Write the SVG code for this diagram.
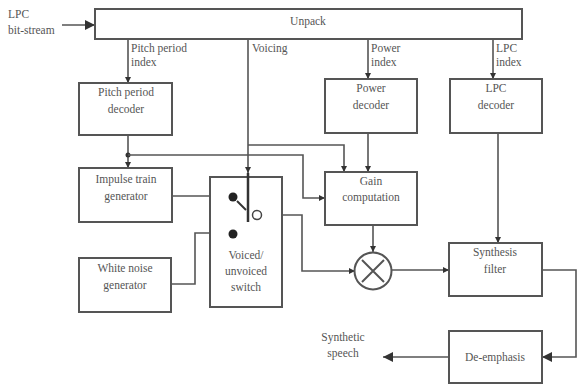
<svg xmlns="http://www.w3.org/2000/svg" width="578" height="388" viewBox="0 0 578 388">
<style>
.box{fill:#fff;stroke:#555;stroke-width:2}
.ln{fill:none;stroke:#555;stroke-width:1.6}
text{font-family:"Liberation Serif","Times New Roman",serif;font-size:11.5px;fill:#555}
.c{text-anchor:middle}
</style>
<defs>
<marker id="ar" viewBox="0 0 10 10" refX="10" refY="5" markerWidth="6" markerHeight="6" orient="auto" markerUnits="userSpaceOnUse">
<path d="M0,0 L10,5 L0,10 z" fill="#333"/>
</marker>
<marker id="arB" viewBox="0 0 10 10" refX="10" refY="5" markerWidth="10" markerHeight="10" orient="auto" markerUnits="userSpaceOnUse">
<path d="M0,0 L10,5 L0,10 z" fill="#333"/>
</marker>
</defs>
<rect width="578" height="388" fill="#fff"/>
<g id="connectors">
<path class="ln" d="M62,25 H95" marker-end="url(#arB)"/>
<path class="ln" d="M128,39 V83" marker-end="url(#ar)"/>
<path class="ln" d="M248,39 V173" marker-end="url(#ar)"/>
<path class="ln" d="M368,39 V79" marker-end="url(#ar)"/>
<path class="ln" d="M493,39 V79" marker-end="url(#ar)"/>
<path class="ln" d="M128,135 V168" marker-end="url(#ar)"/>
<circle cx="128" cy="155" r="2.5" fill="#333"/>
<path class="ln" d="M128,155 H303 V198 H325" marker-end="url(#ar)"/>
<path class="ln" d="M248,145 H344 V172" marker-end="url(#ar)"/>
<path class="ln" d="M368,133 V172" marker-end="url(#ar)"/>
<path class="ln" d="M373,225 V252" marker-end="url(#ar)"/>
<path class="ln" d="M172,196 H233"/>
<path class="ln" d="M171,284 H195 V233 H233"/>
<path class="ln" d="M262,215 H302 V271 H355" marker-end="url(#ar)"/>
<path class="ln" d="M392,270 H449" marker-end="url(#ar)"/>
<path class="ln" d="M498,133 V243" marker-end="url(#ar)"/>
<path class="ln" d="M542,270 H576 V357 H542" marker-end="url(#arB)"/>
<path class="ln" d="M449,357 H383" marker-end="url(#arB)"/>
</g>
<g id="unpack"><rect class="box" x="95" y="9" width="427" height="30"/><text x="308" y="25" class="c">Unpack</text></g>
<g id="input-label"><text x="8" y="18">LPC</text><text x="8" y="34">bit-stream</text></g>
<g id="labels">
<text x="131" y="52">Pitch period</text><text x="131" y="66">index</text>
<text x="252" y="52">Voicing</text>
<text x="371" y="52">Power</text><text x="371" y="66">index</text>
<text x="496" y="52">LPC</text><text x="496" y="66">index</text>
</g>
<g id="pitch-decoder"><rect class="box" x="79" y="83" width="93" height="52"/><text x="126" y="96" class="c">Pitch period</text><text x="126" y="113" class="c">decoder</text></g>
<g id="power-decoder"><rect class="box" x="325" y="79" width="92" height="54"/><text x="371" y="92" class="c">Power</text><text x="371" y="109" class="c">decoder</text></g>
<g id="lpc-decoder"><rect class="box" x="450" y="79" width="92" height="54"/><text x="496" y="92" class="c">LPC</text><text x="496" y="109" class="c">decoder</text></g>
<g id="impulse"><rect class="box" x="79" y="168" width="93" height="54"/><text x="126" y="183" class="c">Impulse train</text><text x="126" y="200" class="c">generator</text></g>
<g id="noise"><rect class="box" x="79" y="258" width="92" height="54"/><text x="125" y="272" class="c">White noise</text><text x="125" y="289" class="c">generator</text></g>
<g id="switch">
<rect class="box" x="210" y="177" width="72" height="130"/>
<line x1="248" y1="173" x2="248" y2="222" stroke="#333" stroke-width="2.5"/>
<circle cx="233" cy="197" r="4.5" fill="#222"/>
<circle cx="233" cy="234" r="4.5" fill="#222"/>
<line x1="237" y1="201" x2="246" y2="210" stroke="#333" stroke-width="2"/>
<circle cx="257" cy="215" r="4.5" fill="#fff" stroke="#444" stroke-width="1.5"/>
<text x="246" y="259" class="c">Voiced/</text><text x="246" y="275" class="c">unvoiced</text><text x="246" y="291" class="c">switch</text>
</g>
<g id="gain"><rect class="box" x="325" y="172" width="92" height="53"/><text x="371" y="185" class="c">Gain</text><text x="371" y="201" class="c">computation</text></g>
<g id="multiplier"><circle cx="373" cy="271" r="18.5" fill="#fff" stroke="#555" stroke-width="2"/><path d="M362,260 L384,282 M384,260 L362,282" stroke="#555" stroke-width="2"/></g>
<g id="synthesis"><rect class="box" x="449" y="243" width="93" height="53"/><text x="495" y="256" class="c">Synthesis</text><text x="495" y="273" class="c">filter</text></g>
<g id="deemphasis"><rect class="box" x="449" y="331" width="93" height="52"/><text x="495" y="361" class="c">De-emphasis</text></g>
<g id="output-label"><text x="343" y="341" class="c">Synthetic</text><text x="343" y="357" class="c">speech</text></g>
</svg>
